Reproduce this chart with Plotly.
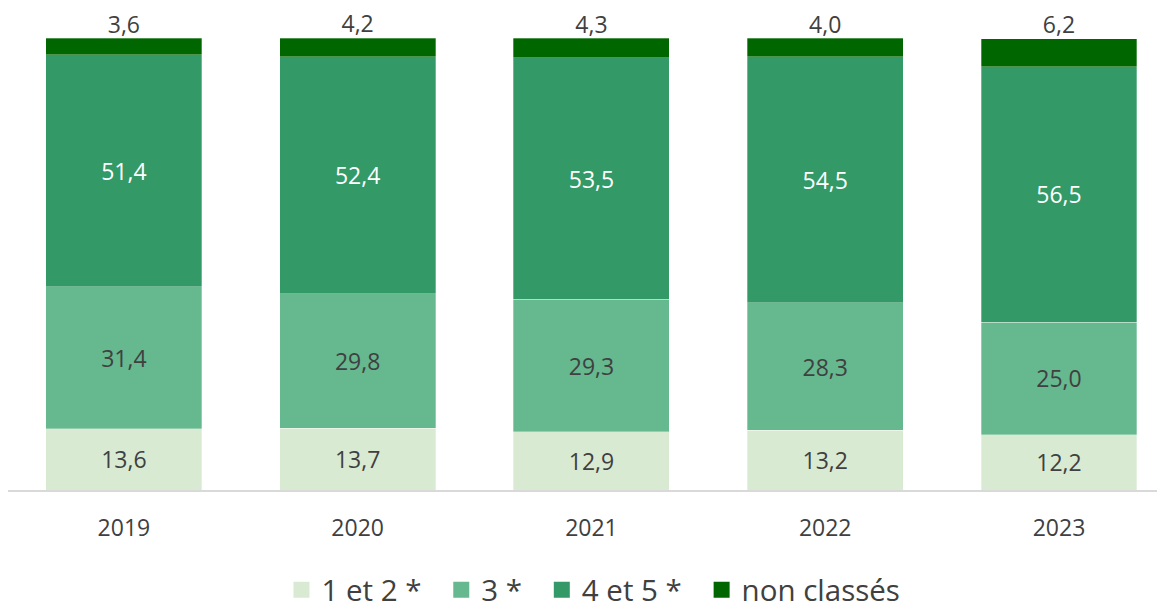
import plotly.graph_objects as go

years = ["2019", "2020", "2021", "2022", "2023"]
cat_12 = [13.6, 13.7, 12.9, 13.2, 12.2]
cat_3 = [31.4, 29.8, 29.3, 28.3, 25.0]
cat_45 = [51.4, 52.4, 53.5, 54.5, 56.5]
non_classes = [3.6, 4.2, 4.3, 4.0, 6.2]

series = [
    ("1 et 2 *", cat_12, "#D9EAD3", "#404040"),
    ("3 *", cat_3, "#66B88F", "#404040"),
    ("4 et 5 *", cat_45, "#339966", "#FFFFFF"),
    ("non classés", non_classes, "#006600", None),
]

FONT = "Open Sans"
fig = go.Figure()
for name, vals, color, tcolor in series:
    bar = dict(
        x=years, y=vals, name=name,
        marker=dict(color=color, line=dict(color="rgba(255,255,255,0.6)", width=0.5)),
        showlegend=False, cliponaxis=False,
    )
    if tcolor is not None:
        bar.update(texttemplate="%{y:.1f}", textposition="inside", insidetextanchor="middle",
                   textfont=dict(color=tcolor, size=23, family=FONT), constraintext="none")
    fig.add_trace(go.Bar(**bar))

for name, vals, color, tcolor in series:
    fig.add_trace(go.Scatter(
        x=[None], y=[None], mode="markers", name=name + "\u2002",
        marker=dict(symbol="square", size=20, color=color),
        showlegend=True,
    ))

# labels of the top ("non classés") segment, placed above each stack
totals = [round(a + b + c + d, 1) for a, b, c, d in zip(cat_12, cat_3, cat_45, non_classes)]
fig.add_trace(go.Scatter(
    x=years, y=totals, customdata=non_classes, mode="text",
    texttemplate="%{customdata:.1f}", textposition="top center",
    textfont=dict(size=23, color="#404040", family=FONT),
    cliponaxis=False, showlegend=False, hoverinfo="skip",
))

fig.update_layout(
    width=1157, height=596,
    barmode="stack", bargap=0.333,
    separators=", ",
    plot_bgcolor="white", paper_bgcolor="white",
    margin=dict(l=0, r=0, t=30, b=114),
    font=dict(family=FONT, color="#404040"),
    legend=dict(orientation="h", traceorder="normal", x=0.5125, xanchor="center",
                y=1 - 582 / 596, yanchor="middle", yref="container",
                font=dict(size=29.5, color="#404040"),
                itemsizing="trace", itemwidth=30),
    xaxis=dict(type="category", range=[-0.4957, 4.4535], showline=True, linecolor="#D9D9D9",
               linewidth=2, ticks="", tickfont=dict(size=23, color="#404040"),
               ticklabelstandoff=16, showgrid=False, fixedrange=True),
    yaxis=dict(range=[0, 100.1], visible=False, showgrid=False),
)

fig.write_html("out.html")
